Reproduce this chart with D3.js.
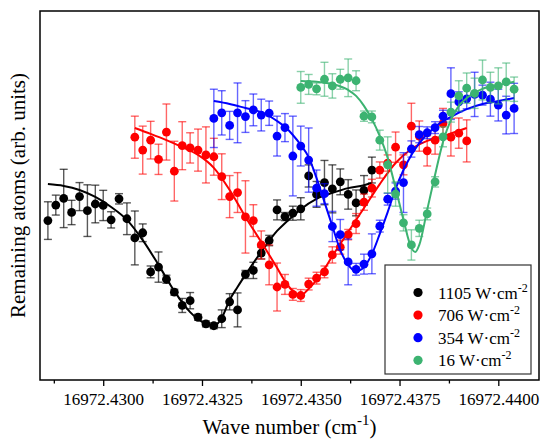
<!DOCTYPE html>
<html>
<head>
<meta charset="utf-8">
<script src="https://cdn.jsdelivr.net/npm/d3@7"></script>
<style>
body { margin: 0; background: #fff; }
svg text { font-family: "Liberation Serif", "Times New Roman", serif; fill: #000; }
</style>
</head>
<body>
<svg id="drawing_region"></svg>
<script>
// measured points (wave number in cm^-1, remaining atoms in arb. units, error)
const x1105 = [16972.4286,16972.4288,16972.4290,16972.4292,16972.4294,16972.4296,16972.4298,16972.4300,16972.4302,16972.4304,
  16972.4306,16972.4308,16972.4310,16972.4312,16972.4314,16972.4316,16972.4318,16972.4320,16972.4322,16972.4324,
  16972.4326,16972.4328,16972.4330,16972.4332,16972.4334,16972.4336,16972.4338,16972.4340,16972.4342,16972.4344,
  16972.4346,16972.4348,16972.4350,16972.4352,16972.4354,16972.4356,16972.4358,16972.4360,16972.4362,16972.4364,
  16972.4366,16972.4368];
const y1105 = [.432,.474,.492,.454,.497,.459,.477,.473,.434,.491,.437,.385,.399,.293,.306,.273,.238,.202,.215,.170,
  .152,.147,.166,.212,.190,.286,.297,.344,.378,.461,.443,.452,.464,.553,.503,.535,.518,.537,.503,.480,.514,.569];
const e1105 = [.051,.027,.079,.033,.038,.070,.051,.041,.022,.014,.043,.073,.024,.016,.041,.011,.008,.019,.022,.008,
  .008,.008,.024,.022,.046,.011,.022,.016,.014,.027,.011,.019,.030,.030,.035,.060,.065,.035,.040,.035,.040,.035];

const x706 = [16972.4308,16972.4310,16972.4312,16972.4314,16972.4316,16972.4318,16972.4320,16972.4322,16972.4324,16972.4326,
  16972.4328,16972.4330,16972.4332,16972.4334,16972.4336,16972.4338,16972.4340,16972.4342,16972.4344,16972.4346,
  16972.4348,16972.4350,16972.4352,16972.4354,16972.4356,16972.4358,16972.4360,16972.4362,16972.4364,16972.4366,
  16972.4368,16972.4370,16972.4372,16972.4374,16972.4376,16972.4378,16972.4380,16972.4382,16972.4384,16972.4386,
  16972.4388,16972.4390,16972.4392];
const y706 = [.658,.623,.650,.598,.672,.566,.635,.629,.623,.610,.605,.551,.497,.508,.442,.432,.366,.312,.252,.259,
  .232,.229,.260,.276,.293,.339,.360,.394,.424,.482,.520,.569,.588,.631,.583,.688,.661,.621,.650,.695,.658,.669,.648];
const e706 = [.057,.065,.051,.041,.076,.081,.065,.041,.057,.076,.050,.062,.057,.054,.098,.043,.038,.054,.065,.027,
  .016,.016,.016,.016,.016,.022,.019,.014,.027,.022,.024,.022,.022,.041,.027,.062,.041,.041,.038,.041,.051,.041,.057];

const x354 = [16972.4328,16972.4330,16972.4332,16972.4334,16972.4336,16972.4338,16972.4340,16972.4342,16972.4344,16972.4346,
  16972.4348,16972.4350,16972.4352,16972.4354,16972.4356,16972.4358,16972.4360,16972.4362,16972.4364,16972.4366,
  16972.4368,16972.4370,16972.4372,16972.4374,16972.4376,16972.4378,16972.4380,16972.4382,16972.4384,16972.4386,
  16972.4388,16972.4390,16972.4392,16972.4394,16972.4396,16972.4398,16972.4400,16972.4402,16972.4404];
const y354 = [.709,.724,.690,.724,.714,.732,.718,.723,.661,.684,.607,.634,.596,.520,.505,.416,.394,.320,.300,.314,
  .342,.417,.490,.512,.535,.626,.665,.670,.684,.715,.776,.754,.762,.774,.772,.761,.745,.718,.736];
const e354 = [.079,.060,.038,.081,.043,.043,.043,.033,.054,.038,.108,.054,.087,.049,.027,.041,.041,.062,.016,.027,
  .054,.016,.016,.022,.081,.022,.022,.016,.016,.016,.070,.027,.027,.060,.027,.046,.043,.051,.068];

const x16 = [16972.4350,16972.4352,16972.4354,16972.4356,16972.4358,16972.4360,16972.4362,16972.4364,16972.4366,16972.4368,
  16972.4370,16972.4372,16972.4374,16972.4376,16972.4378,16972.4380,16972.4382,16972.4384,16972.4386,16972.4388,
  16972.4390,16972.4392,16972.4394,16972.4396,16972.4398,16972.4400,16972.4402,16972.4404];
const y16 = [.793,.801,.789,.815,.797,.815,.819,.811,.715,.713,.650,.583,.504,.426,.366,.411,.450,.537,.659,.726,
  .770,.791,.777,.813,.793,.797,.808,.788];
const e16 = [.043,.027,.016,.046,.033,.027,.051,.027,.014,.016,.027,.076,.033,.022,.041,.022,.016,.014,.027,.027,
  .041,.041,.041,.054,.041,.049,.051,.033];

// fitted curves
const fitX1105 = [16972.4286,16972.4290,16972.4294,16972.4298,16972.4302,16972.4306,16972.4310,16972.4314,16972.4318,16972.4322,
  16972.4326,16972.4328,16972.4330,16972.4332,16972.4334,16972.4336,16972.4338,16972.4340,16972.4342,16972.4344,
  16972.4346,16972.4348,16972.4350,16972.4354,16972.4358,16972.4362,16972.4366,16972.4368];
const fitY1105 = [.531,.526,.515,.496,.469,.434,.379,.312,.241,.184,.152,.146,.168,.217,.252,.285,.317,.347,.377,.404,
  .425,.444,.463,.491,.507,.520,.528,.534];
const fitX706 = [16972.4308,16972.4312,16972.4316,16972.4320,16972.4324,16972.4328,16972.4332,16972.4336,16972.4340,16972.4344,
  16972.4346,16972.4348,16972.4350,16972.4352,16972.4354,16972.4356,16972.4358,16972.4362,16972.4366,16972.4370,
  16972.4374,16972.4378,16972.4382,16972.4386,16972.4392];
const fitY706 = [.683,.667,.650,.631,.610,.575,.515,.442,.374,.304,.268,.241,.230,.247,.271,.301,.336,.401,.466,.531,
  .588,.626,.648,.661,.683];
const fitX354 = [16972.4328,16972.4332,16972.4336,16972.4340,16972.4344,16972.4346,16972.4348,16972.4350,16972.4352,16972.4354,
  16972.4356,16972.4358,16972.4360,16972.4362,16972.4364,16972.4366,16972.4368,16972.4370,16972.4372,16972.4374,
  16972.4376,16972.4378,16972.4380,16972.4384,16972.4388,16972.4392,16972.4396,16972.4400,16972.4404];
const fitY354 = [.756,.748,.737,.726,.702,.686,.664,.637,.604,.547,.482,.417,.352,.312,.295,.306,.341,.396,.455,.518,
  .569,.610,.642,.686,.713,.734,.748,.756,.764];
const fitX16 = [16972.4350,16972.4354,16972.4358,16972.4362,16972.4364,16972.4366,16972.4368,16972.4370,16972.4372,16972.4374,
  16972.4376,16972.4378,16972.4379,16972.4380,16972.4382,16972.4384,16972.4386,16972.4388,16972.4390,16972.4392,
  16972.4396,16972.4400,16972.4404];
const fitY16 = [.810,.808,.802,.786,.770,.743,.707,.661,.602,.520,.434,.358,.347,.366,.461,.556,.645,.705,.743,.764,
  .789,.799,.808];

const intensities = ["1105", "706", "354", "16"];
const colors = ["#000000", "#ff0000", "#0000ff", "#3cb371"];
const majorTicks = [16972.4300, 16972.4325, 16972.4350, 16972.4375, 16972.4400];
const minorTicks = [16972.42875, 16972.43125, 16972.43375, 16972.43625, 16972.43875];

const series = [
  { x: x1105, y: y1105, e: e1105, fx: fitX1105, fy: fitY1105 },
  { x: x706, y: y706, e: e706, fx: fitX706, fy: fitY706 },
  { x: x354, y: y354, e: e354, fx: fitX354, fy: fitY354 },
  { x: x16, y: y16, e: e16, fx: fitX16, fy: fitY16 }
];

const width = 540, height = 440;
const margin = { top: 11, right: 1, bottom: 60, left: 40 };
const inner_width = width - margin.left - margin.right;
const inner_height = height - margin.top - margin.bottom;

const svg = d3.select('#drawing_region')
  .attr('width', width)
  .attr('height', height)
  .attr('font-family', '"Liberation Serif", serif');

const chart = svg.append('g')
  .attr('transform', `translate(${margin.left}, ${margin.top})`);

const xscale = d3.scaleLinear()
  .domain([16972.4284, 16972.44103])
  .range([0, inner_width]);
const yscale = d3.scaleLinear()
  .domain([0, 1])
  .range([inner_height, 0]);

// axes
const xaxis = d3.axisBottom(xscale)
  .tickValues(majorTicks)
  .tickFormat(d3.format('.4f'))
  .tickSize(6)
  .tickPadding(7)
  .tickSizeOuter(0);
const xaxis_group = chart.append('g')
  .attr('transform', `translate(0, ${inner_height})`)
  .call(xaxis)
  .attr('font-family', null)
  .attr('font-size', null);
xaxis_group.select('.domain').remove();
xaxis_group.selectAll('text')
  .style('font-family', '"Liberation Serif", serif')
  .style('font-size', '17px');
xaxis_group.selectAll('line').attr('stroke-width', 1.3);

const minor_group = chart.append('g')
  .attr('transform', `translate(0, ${inner_height})`)
  .call(d3.axisBottom(xscale).tickValues(minorTicks).tickFormat('').tickSize(3.5).tickSizeOuter(0));
minor_group.select('.domain').remove();
minor_group.selectAll('line').attr('stroke-width', 1.3);

chart.append('rect')
  .attr('width', inner_width)
  .attr('height', inner_height)
  .attr('fill', 'none')
  .attr('stroke', '#000')
  .attr('stroke-width', 1.5);

// series
const line = d3.line()
  .x(d => xscale(d[0]))
  .y(d => yscale(d[1]))
  .curve(d3.curveMonotoneX);

series.forEach((s, k) => {
  const pts = s.x.map((xv, i) => ({ x: xv, y: s.y[i], e: s.e[i] }));
  const g = chart.append('g');
  const bars = g.selectAll('.bar').data(pts).enter().append('g')
    .attr('stroke', colors[k])
    .attr('stroke-opacity', k === 0 ? 0.65 : 0.6)
    .attr('stroke-width', 1.4);
  bars.append('line')
    .attr('x1', d => xscale(d.x)).attr('x2', d => xscale(d.x))
    .attr('y1', d => yscale(d.y - d.e)).attr('y2', d => yscale(d.y + d.e));
  bars.append('line')
    .attr('x1', d => xscale(d.x) - 4).attr('x2', d => xscale(d.x) + 4)
    .attr('y1', d => yscale(d.y + d.e)).attr('y2', d => yscale(d.y + d.e));
  bars.append('line')
    .attr('x1', d => xscale(d.x) - 4).attr('x2', d => xscale(d.x) + 4)
    .attr('y1', d => yscale(d.y - d.e)).attr('y2', d => yscale(d.y - d.e));

  g.selectAll('circle').data(pts).enter().append('circle')
    .attr('cx', d => xscale(d.x))
    .attr('cy', d => yscale(d.y))
    .attr('r', 4.4)
    .attr('fill', colors[k]);

  g.append('path')
    .attr('d', line(s.fx.map((xv, i) => [xv, s.fy[i]])))
    .attr('fill', 'none')
    .attr('stroke', colors[k])
    .attr('stroke-width', 2);
});

// legend
const legend = svg.append('g').attr('transform', 'translate(385, 265)');
legend.append('rect')
  .attr('width', 146)
  .attr('height', 109)
  .attr('fill', '#fff')
  .attr('stroke', '#333')
  .attr('stroke-width', 1.2);
intensities.forEach((lab, k) => {
  const row = legend.append('g').attr('transform', `translate(0, ${27.5 + k * 22.6})`);
  row.append('circle').attr('cx', 33).attr('cy', 0).attr('r', 4.6).attr('fill', colors[k]);
  const t = row.append('text').attr('x', 53).attr('y', 6).style('font-size', '17px');
  t.append('tspan').text(lab + ' W\u00b7cm');
  t.append('tspan').attr('dy', -7).style('font-size', '12px').text('-2');
});

// axis titles
const xt = svg.append('text')
  .attr('x', margin.left + inner_width / 2)
  .attr('y', 434)
  .attr('text-anchor', 'middle')
  .style('font-size', '21px');
xt.append('tspan').text('Wave number (cm');
xt.append('tspan').attr('dy', -9).style('font-size', '15px').text('-1');
xt.append('tspan').attr('dy', 9).text(')');

svg.append('text')
  .attr('transform', `translate(25, ${margin.top + inner_height / 2}) rotate(-90)`)
  .attr('text-anchor', 'middle')
  .style('font-size', '21px')
  .text('Remaining atoms (arb. units)');
</script>
</body>
</html>
